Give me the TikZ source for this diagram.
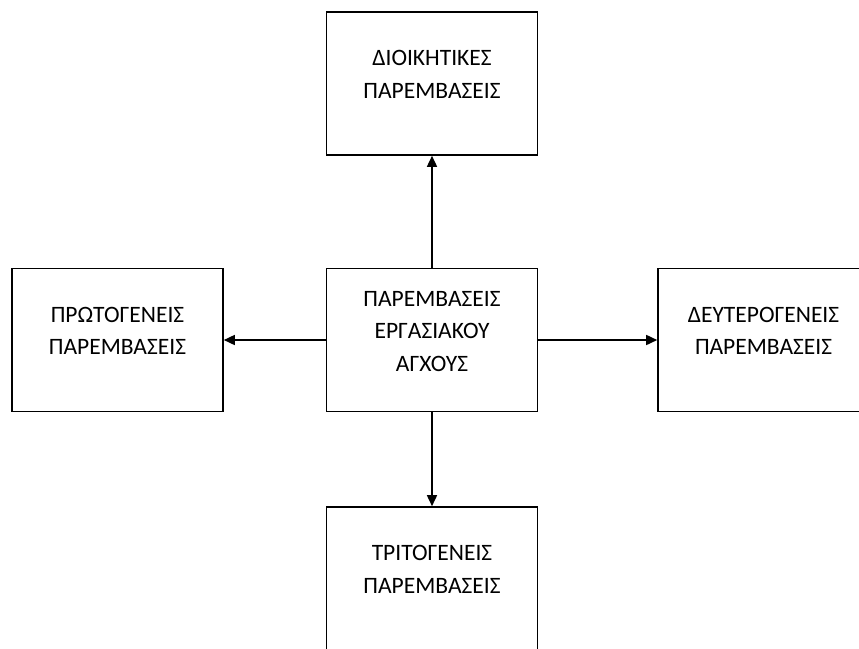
\documentclass[tikz,border=0pt]{standalone}
\usepackage{fontspec}
\setmainfont{Carlito}
\usetikzlibrary{arrows.meta}
\tikzset{
	box/.style = {draw, line width = 1.6pt, minimum width = 211pt, minimum height = 143pt,
		align = center, font = \fontsize{23.5}{32.5}\selectfont, text depth = 18pt},
	arr/.style = {line width = 1.6pt, -{Triangle[length = 11pt, width = 10pt]}}
}
\begin{document}
\begin{tikzpicture}[x = 1pt, y = -1pt]
		\useasboundingbox (0, 0) rectangle (859, 648);
		\begin{scope}
		\clip (0, 0) rectangle (859, 648);
		\node[box] (stress) at (432, 340) {ΠΑΡΕΜΒΑΣΕΙΣ\\ΕΡΓΑΣΙΑΚΟΥ\\ΑΓΧΟΥΣ};
		\node[box] (admin) at (432, 83.5) {ΔΙΟΙΚΗΤΙΚΕΣ\\ΠΑΡΕΜΒΑΣΕΙΣ};
		\node[box] (primary) at (117.5, 340) {ΠΡΩΤΟΓΕΝΕΙΣ\\ΠΑΡΕΜΒΑΣΕΙΣ};
		\node[box] (secondary) at (763.5, 340) {ΔΕΥΤΕΡΟΓΕΝΕΙΣ\\ΠΑΡΕΜΒΑΣΕΙΣ};
		\node[box] (tertiary) at (432, 578.5) {ΤΡΙΤΟΓΕΝΕΙΣ\\ΠΑΡΕΜΒΑΣΕΙΣ};
		\foreach \from/\to in {stress.north/admin.south, stress.west/primary.east,
			stress.east/secondary.west, stress.south/tertiary.north}{
			\draw[arr] (\from) -- (\to);}
		\end{scope}
\end{tikzpicture}
\end{document}
